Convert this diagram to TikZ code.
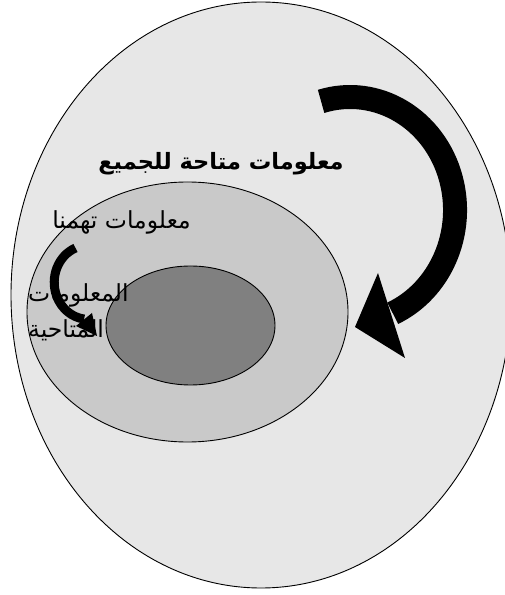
\documentclass[tikz,border=0pt]{standalone}
\usepackage{fontspec}
\usepackage{xcolor}
\usepackage{tikz}
\usetikzlibrary{shapes.geometric}
\TeXXeTstate=1
\newfontfamily\arabicfont[Script=Arabic]{DejaVu Sans}

\begin{document}
\begin{tikzpicture}[
    x=1pt, y=1pt,
    zone/.style={ellipse, draw=black, line width=0.9pt, inner sep=0pt, outer sep=0pt},
    lbl/.style={inner sep=0pt, text=black},
    bendline/.style={draw=black, line width=24pt},
    smallbend/.style={draw=black, line width=9pt},
  ]
  \definecolor{cAll}{HTML}{E7E7E7}\definecolor{cOurs}{HTML}{C9C9C9}
  \definecolor{cAvail}{HTML}{808080}
  \useasboundingbox (0,0) rectangle (505,595);

  \node[zone, fill=cAll, minimum width=500pt, minimum height=586pt] (all) at (261,300) {};
  \node[zone, fill=cOurs, minimum width=321pt, minimum height=260pt] (ours) at (187.5,283) {};
  \node[zone, fill=cAvail, minimum width=169pt, minimum height=119pt] (avail) at (190.5,269.5) {};

  \node[lbl, font=\arabicfont\bfseries\fontsize{22.5}{26}\selectfont] (t1) at (221,431) {\beginR معلومات متاحة للجميع\endR};
  \node[lbl, font=\arabicfont\fontsize{23.5}{28}\selectfont] (t2) at (121.5,373) {\beginR معلومات تهمنا\endR};
  \node[lbl, font=\arabicfont\fontsize{23.5}{36}\selectfont, align=left, anchor=north west] (t3) at (28,312)
    {\beginR المعلومات\endR\\\beginR المتاحية\endR};

  \coordinate (bigtail) at (321.1,493.6);
  \draw[bendline] (bigtail) arc[start angle=106, end angle=-66, x radius=105, y radius=113] coordinate (bigend);
  \coordinate (bigtip) at (355,268);
  \fill (378,322) -- (bigtip) -- (405,237) -- cycle;

  \coordinate (smalltail) at (75.5,347);
  \draw[smallbend] (smalltail) arc[start angle=112, end angle=263, x radius=34, y radius=37] coordinate (smallend);
  \coordinate (smalltip) at (97,259);
  \fill (92,282) -- (smalltip) -- (76,269) -- cycle;
\end{tikzpicture}
\end{document}
